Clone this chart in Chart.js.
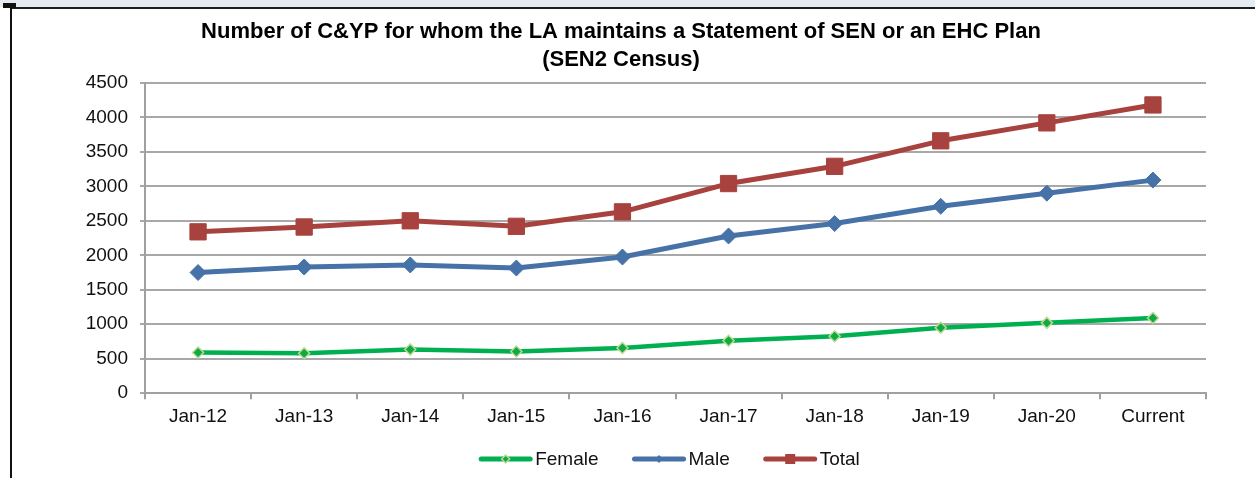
<!DOCTYPE html>
<html>
<head>
<meta charset="utf-8">
<script src="https://cdn.jsdelivr.net/npm/chart.js@4/dist/chart.umd.min.js"></script>
<style>
  body { margin: 0; background: #fff; width: 1255px; height: 478px; overflow: hidden; position: relative; }
  #strip { position: absolute; left: 0; top: 0; width: 1255px; height: 7px; background: #e6ebf2; }
  #stripLine { position: absolute; left: 10px; top: 7px; width: 1245px; height: 2px; background: #1e1e1e; }
  #corner { position: absolute; left: 3px; top: 3px; width: 13px; height: 5px; background: #111; }
  #edge { position: absolute; left: 10px; top: 7px; width: 2px; height: 471px; background: #111; }
  #wrap { position: absolute; left: 12px; top: 8px; width: 1218px; height: 470px; }
</style>
</head>
<body>
<div id="strip"></div>
<div id="stripLine"></div>
<div id="corner"></div>
<div id="edge"></div>
<div id="wrap"><canvas id="senChart" width="1218" height="470"></canvas></div>
<script>
const categories = ['Jan-12', 'Jan-13', 'Jan-14', 'Jan-15', 'Jan-16', 'Jan-17', 'Jan-18', 'Jan-19', 'Jan-20', 'Current'];
const femaleValues = [590, 580, 635, 605, 655, 760, 825, 950, 1020, 1090];
const maleValues = [1750, 1830, 1860, 1815, 1975, 2280, 2460, 2710, 2900, 3090];
const totalValues = [2340, 2410, 2500, 2420, 2630, 3040, 3290, 3660, 3920, 4180];
const yMin = 0;
const yMax = 4500;
const yStep = 500;

const fontName = "'Liberation Sans', Arial, sans-serif";

// legend drawn by hand: line + small marker, like the Excel one
const lineLegend = {
    id: 'lineLegend',
    afterDraw(chart) {
        const ctx = chart.ctx;
        const area = chart.chartArea;
        const lineLen = 53, gap = 34, textGap = 3;
        ctx.save();
        ctx.font = '19px ' + fontName;
        const items = chart.data.datasets.map(ds => ({ ds: ds, w: ctx.measureText(ds.label).width }));
        let total = 0;
        items.forEach((it, i) => { total += lineLen + textGap + it.w + (i > 0 ? gap : 0); });
        let x = (area.left + area.right) / 2 - 6 - total / 2;
        const y = 451;
        items.forEach(it => {
            const ds = it.ds;
            ctx.strokeStyle = ds.borderColor;
            ctx.lineWidth = 5;
            ctx.lineCap = 'round';
            ctx.beginPath();
            ctx.moveTo(x + 2, y);
            ctx.lineTo(x + lineLen - 2, y);
            ctx.stroke();
            const cx = x + lineLen / 2;
            ctx.fillStyle = ds.pointBackgroundColor;
            ctx.strokeStyle = ds.pointBorderColor;
            ctx.lineWidth = ds.legendMarkerBorder;
            ctx.beginPath();
            const r = ds.legendMarkerSize;
            if (ds.pointStyle === 'rect') {
                ctx.rect(cx - r, y - r, 2 * r, 2 * r);
            } else {
                ctx.moveTo(cx, y - r);
                ctx.lineTo(cx + r, y);
                ctx.lineTo(cx, y + r);
                ctx.lineTo(cx - r, y);
                ctx.closePath();
            }
            ctx.fill();
            if (ds.legendMarkerBorder > 0) ctx.stroke();
            ctx.fillStyle = '#111';
            ctx.textBaseline = 'middle';
            ctx.textAlign = 'left';
            ctx.fillText(ds.label, x + lineLen + textGap, y + 1);
            x += lineLen + textGap + it.w + gap;
        });
        ctx.restore();
    }
};

const context = document.getElementById('senChart');

const myChart = new Chart(context, {
    type: 'line',
    data: {
        labels: categories,
        datasets: [{
            label: 'Female',
            data: femaleValues,
            borderColor: '#00b050',
            borderWidth: 4.5,
            pointStyle: 'rectRot',
            pointRadius: 5.5,
            pointBackgroundColor: '#12a846',
            pointBorderColor: '#b9dc8e',
            pointBorderWidth: 1.5,
            legendMarkerSize: 4,
            legendMarkerBorder: 1.5
        }, {
            label: 'Male',
            data: maleValues,
            borderColor: '#4672a8',
            borderWidth: 5,
            pointStyle: 'rectRot',
            pointRadius: 8,
            pointBackgroundColor: '#4672a8',
            pointBorderColor: '#4672a8',
            pointBorderWidth: 1,
            legendMarkerSize: 4,
            legendMarkerBorder: 0
        }, {
            label: 'Total',
            data: totalValues,
            borderColor: '#a8423e',
            borderWidth: 5,
            pointStyle: 'rect',
            pointRadius: 11.5,
            pointBackgroundColor: '#a8423e',
            pointBorderColor: '#a8423e',
            pointBorderWidth: 1,
            legendMarkerSize: 5,
            legendMarkerBorder: 0
        }]
    },
    options: {
        responsive: false,
        animation: false,
        layout: {
            padding: { left: 24, right: 24, top: 0, bottom: 44 }
        },
        elements: {
            line: { tension: 0, borderJoinStyle: 'round', borderCapStyle: 'round' }
        },
        plugins: {
            legend: { display: false },
            tooltip: { enabled: false },
            title: {
                display: true,
                text: ['Number of C&YP for whom the LA maintains a Statement of SEN or an EHC Plan', '(SEN2 Census)'],
                color: '#000',
                font: { family: fontName, size: 22, weight: 'bold', lineHeight: 1.27 },
                padding: { top: 10, bottom: 9 }
            }
        },
        scales: {
            x: {
                offset: true,
                grid: { offset: true, drawOnChartArea: false, drawTicks: true, tickLength: 6, color: '#a0a0a0', lineWidth: 2 },
                border: { color: '#a0a0a0', width: 2 },
                ticks: { color: '#111', padding: 6, font: { family: fontName, size: 19 } }
            },
            y: {
                min: yMin,
                max: yMax,
                afterFit: scale => { scale.width = 109; },
                grid: { color: '#a8a8a8', lineWidth: 2, tickLength: 5 },
                border: { color: '#a0a0a0', width: 2 },
                ticks: {
                    stepSize: yStep,
                    color: '#111',
                    padding: 12,
                    font: { family: fontName, size: 19 },
                    callback: value => String(value)
                }
            }
        }
    },
    plugins: [lineLegend]
});
</script>
</body>
</html>
